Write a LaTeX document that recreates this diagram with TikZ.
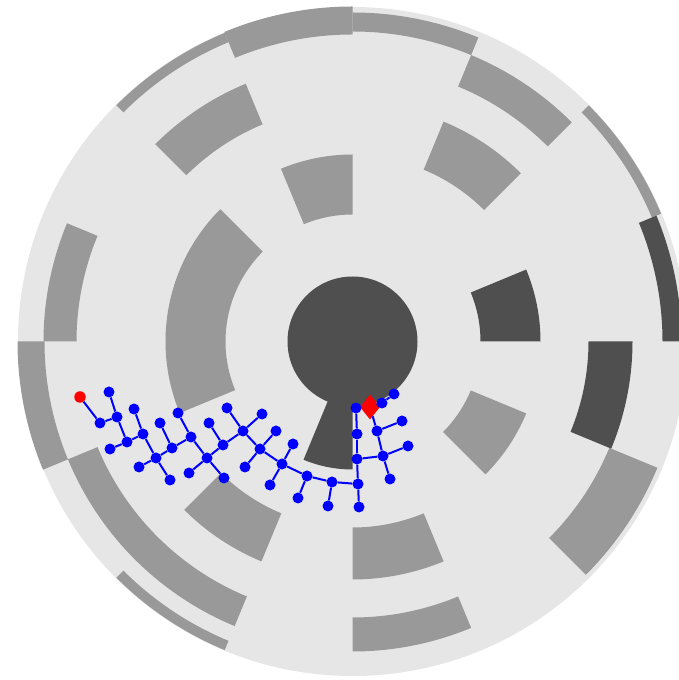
\documentclass[tikz,border=0pt]{standalone}
\usetikzlibrary{calc,shapes.geometric}
\definecolor{disc}{gray}{0.902}
\definecolor{wallgray}{gray}{0.6}
\definecolor{walldark}{gray}{0.31}

\begin{document}
\begin{tikzpicture}[x=1pt, y=1pt,
  wall/.style={fill=wallgray},
  darkwall/.style={fill=walldark},
  vtx/.style={circle, fill=blue, inner sep=0pt, minimum size=11pt},
  link/.style={blue, line width=2pt},
  startpt/.style={circle, fill=red, inner sep=0pt, minimum size=11.5pt},
  goalpt/.style={diamond, fill=red, inner sep=0pt, minimum width=20pt, minimum height=25pt}
]
\useasboundingbox (0,0) rectangle (679,680);
\clip (0,0) rectangle (679,680);

\coordinate (c) at (352.5,338.5);
\fill[disc] (c) circle[radius=334.5];

\foreach \ri/\ro/\a/\b in {127/187/90/112.5, 127/187/135/202.5, 128/188/-45/-22.5,
  186/238/45/67.5, 186/238/225/247.5, 186/238/270/292.5, 235/279/112.5/135,
  276/310/45/67.5, 276/309/157.5/180, 276/308/202.5/247.5, 276/310/270/292.5,
  278/330/-45/-22.5, 307/335/90/112.5, 310/329/67.5/90, 308/335/180/202.5,
  324/334/112.5/135, 324/334/22.5/45, 324/334/225/247.5}
  \fill[wall] ($(c)+(\a:\ri)$) arc[start angle=\a, end angle=\b, radius=\ri]
    -- ($(c)+(\b:\ro)$) arc[start angle=\b, end angle=\a, radius=\ro] -- cycle;

\foreach \ri/\ro/\a/\b in {128/188/0/22.5, 236/280/-22.5/0, 310/329/0/22.5}
  \fill[darkwall] ($(c)+(\a:\ri)$) arc[start angle=\a, end angle=\b, radius=\ri]
    -- ($(c)+(\b:\ro)$) arc[start angle=\b, end angle=\a, radius=\ro] -- cycle;

\fill[darkwall] (c) circle[radius=65];
\fill[darkwall] (c) -- ($(c)+(247.5:128)$) arc[start angle=247.5, end angle=270, radius=128] -- cycle;

\node[startpt] (start) at (80,283) {};
\node[goalpt] (goal) at (370,273) {};
\foreach \n/\x/\y in {n1/100/257, n2/117/263, n3/109/288, n4/127/238, n5/110/231,
  n6/143/246, n7/134/271, n8/156/222, n9/139/213, n10/160/257, n11/172/232,
  n12/170/200, n13/178/267, n14/191/243, n15/209/257, n16/207/222, n17/189/207,
  n18/224/202, n19/223/235, n20/227/272, n21/243/249, n22/262/266, n23/260/231,
  n24/276/249, n25/245/213, n26/282/216, n27/293/236, n28/270/195, n29/307/204,
  n30/298/182, n31/332/198, n32/328/174, n33/358/196, n34/359/173, n35/357/221,
  n36/357/246, n37/356/272, n38/383/224, n39/377/249, n40/402/259, n41/408/234,
  n42/390/201, n43/382/277, n44/394/286}
  \node[vtx] (\n) at (\x,\y) {};

\foreach \a/\b in {start/n1, n1/n2, n2/n3, n2/n4, n4/n5, n4/n6, n6/n7, n6/n8,
  n8/n9, n8/n12, n8/n11, n11/n10, n11/n14, n14/n13, n14/n16, n16/n17, n16/n18,
  n16/n19, n19/n15, n19/n21, n21/n20, n21/n22, n21/n23, n23/n24, n23/n25,
  n23/n26, n26/n27, n26/n28, n26/n29, n29/n30, n29/n31, n31/n32, n31/n33,
  n33/n34, n33/n35, n35/n36, n36/n37, n35/n38, n38/n39, n38/n41, n38/n42,
  n39/n40, n39/goal, goal/n43, n43/n44}
  \draw[link] (\a) -- (\b);

\end{tikzpicture}
\end{document}
